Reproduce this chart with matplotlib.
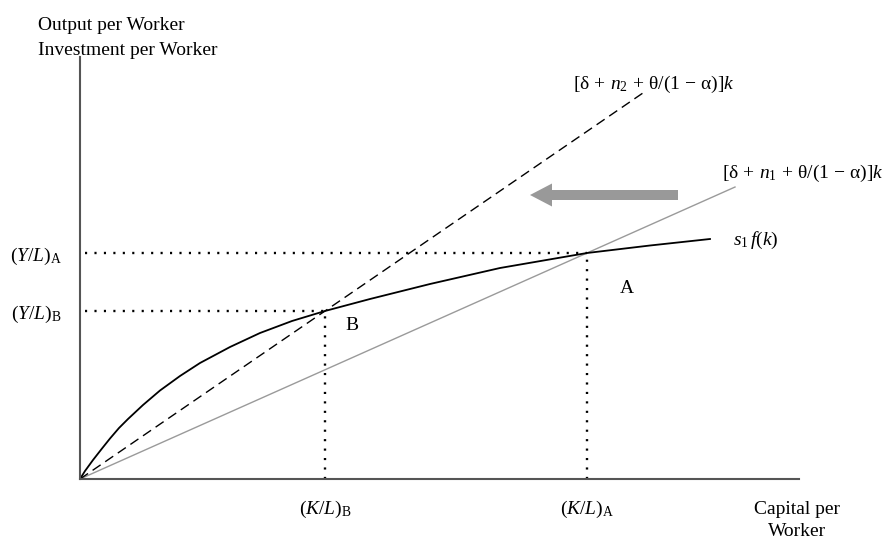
import matplotlib
matplotlib.use("Agg")
import matplotlib.pyplot as plt

K_B, Y_B = 245, 168
K_A, Y_A = 507, 226
CURVE_K = [0, 5, 13, 22, 30, 39, 48, 63, 80, 100, 120, 150, 180, 212, 245,
           290, 350, 420, 507, 570, 630]
CURVE_Y = [0, 8, 19, 30.5, 40.5, 51, 60, 74, 88.5, 103, 116, 132, 146, 158, 168,
           180, 195, 211, 226, 233.5, 240]
LINE_N1_END = 655
LINE_N2_END = 565
X_TICKS = [K_B, K_A]
X_LABELS = [r"$(K/L)_{\mathrm{B}}$", r"$(K/L)_{\mathrm{A}}$"]
Y_TICKS = [Y_B, Y_A]
Y_LABELS = [r"$(Y/L)_{\mathrm{B}}$", r"$(Y/L)_{\mathrm{A}}$"]

W, H = 889, 540
X0, Y0 = 80, 479
XMAX, YMAX = 719, 422

plt.rcParams.update({
    "font.family": "Liberation Serif",
    "mathtext.fontset": "custom",
    "mathtext.rm": "Liberation Serif",
    "mathtext.it": "Liberation Serif:italic",
    "mathtext.bf": "Liberation Serif:bold",
    "font.size": 14,
})

fig = plt.figure(figsize=(W / 100, H / 100), dpi=100)
ax = fig.add_axes([X0 / W, (H - Y0) / H, XMAX / W, YMAX / H])
ax.set_xlim(0, XMAX)
ax.set_ylim(0, YMAX)

for side in ("top", "right"):
    ax.spines[side].set_visible(False)
for side in ("left", "bottom"):
    ax.spines[side].set_color("#555555")
    ax.spines[side].set_linewidth(1.5)

ax.set_xticks(X_TICKS, X_LABELS)
ax.set_yticks(Y_TICKS, Y_LABELS)
ax.tick_params(axis="x", length=0, pad=14, labelsize=14)
ax.tick_params(axis="y", length=0, pad=13, labelsize=14)

# break-even lines
slope1 = Y_A / K_A
slope2 = Y_B / K_B
ax.plot([0, LINE_N1_END], [0, slope1 * LINE_N1_END], color="#9a9a9a", lw=1.0)
ax.plot([0, LINE_N2_END], [0, slope2 * LINE_N2_END], color="black", lw=1.0,
        dashes=(7, 4))

# savings curve
ax.plot(CURVE_K, CURVE_Y, color="black", lw=1.3, solid_joinstyle="round")

# dotted guides
dot = dict(color="black", lw=1.7, linestyle=(0, (0.9, 3.1)), dash_capstyle="butt")
for k, y in ((K_A, Y_A), (K_B, Y_B)):
    ax.plot([5, k], [y, y], **dot)
    ax.plot([k, k], [0, y], **dot)

# shift arrow
ax.arrow(598, 284, -148, 0, width=10, head_width=23, head_length=22,
         length_includes_head=True, color="#999999", lw=0)


def px(x, y):
    return x / W, 1 - y / H


fig.text(*px(38, 30), "Output per Worker", ha="left", va="baseline")
fig.text(*px(38, 55), "Investment per Worker", ha="left", va="baseline")
fig.text(*px(797, 514), "Capital per", ha="center", va="baseline")
fig.text(*px(797, 536), "Worker", ha="center", va="baseline")
fig.text(*px(573, 89),
         r"$[\mathrm{δ}\,+\,n_{2}\,+\,\mathrm{θ}/(1\,-\,\mathrm{α})]k$",
         ha="left", va="baseline")
fig.text(*px(722, 178),
         r"$[\mathrm{δ}\,+\,n_{1}\,+\,\mathrm{θ}/(1\,-\,\mathrm{α})]k$",
         ha="left", va="baseline")
fig.text(*px(733, 245), r"$s_{1}\,f(k)$", ha="left", va="baseline")
fig.text(*px(627, 293), "A", ha="center", va="baseline")
fig.text(*px(352, 330), "B", ha="center", va="baseline")

fig.savefig("out.png", dpi=100)
